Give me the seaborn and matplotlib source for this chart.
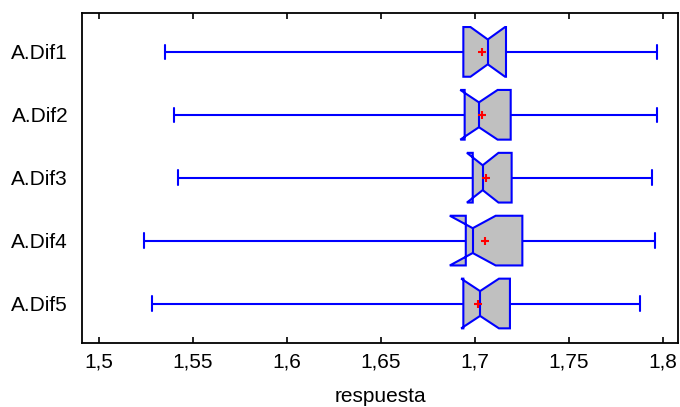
import numpy as np
import pandas as pd
import matplotlib
matplotlib.use("Agg")
import matplotlib.pyplot as plt
import seaborn as sns

# ---- data (five-number summaries + means) ----
categories = ["A.Dif1", "A.Dif2", "A.Dif3", "A.Dif4", "A.Dif5"]
minimums = [1.5350, 1.5399, 1.5422, 1.5239, 1.5280]
q1_values = [1.6939, 1.6946, 1.6989, 1.6952, 1.6939]
medians = [1.7069, 1.7022, 1.7042, 1.6989, 1.7028]
q3_values = [1.7166, 1.7191, 1.7196, 1.7253, 1.7187]
maximums = [1.7971, 1.7971, 1.7941, 1.7959, 1.7881]
means = [1.7037, 1.7040, 1.7060, 1.7054, 1.7019]

x_ticks = [1.5, 1.55, 1.6, 1.65, 1.7, 1.75, 1.8]
x_tick_labels = ["1,5", "1,55", "1,6", "1,65", "1,7", "1,75", "1,8"]
x_label = "respuesta"

# long-form table for seaborn: every summary value entered with equal weight
rows = []
for cat, mn, a, md, b, mx in zip(categories, minimums, q1_values, medians, q3_values, maximums):
    for v in (mn, a, md, b, mx):
        for _ in range(3):
            rows.append({"grupo": cat, "respuesta": v})
df = pd.DataFrame(rows)
df_means = pd.DataFrame({"grupo": categories, "respuesta": means})

sns.set_style("ticks")
plt.rcParams["font.family"] = ["Liberation Sans", "DejaVu Sans"]
plt.rcParams["text.color"] = "black"
plt.rcParams["axes.labelcolor"] = "black"
plt.rcParams["xtick.color"] = "black"
plt.rcParams["ytick.color"] = "black"

fig, ax = plt.subplots(figsize=(6.8, 4.07), dpi=100)
fig.subplots_adjust(left=0.1206, right=0.9975, bottom=0.158, top=0.9688)

sns.boxplot(data=df, x="respuesta", y="grupo", order=categories, ax=ax,
            whis=(0, 100), width=0.79, color="#c0c0c0", saturation=1,
            linecolor="#0000ff", linewidth=1.5, notch=True, showfliers=False)

sns.stripplot(data=df_means, x="respuesta", y="grupo", order=categories, ax=ax,
              jitter=False, marker="+", color="#ff0000", size=6, linewidth=1.5,
              zorder=5)

ax.set_xlim(1.49095, 1.8083)
ax.set_ylim(4.623, -0.623)
ax.set_xticks(x_ticks)
ax.set_xticklabels(x_tick_labels)
ax.set_xlabel(x_label, fontsize=15, labelpad=11)
ax.set_ylabel("")
ax.tick_params(axis="x", direction="in", top=True, bottom=True, length=4,
               width=1.2, labelsize=15, pad=7, color="black", labelcolor="black")
ax.tick_params(axis="y", length=0, labelsize=15, pad=10, labelcolor="black")
for s in ax.spines.values():
    s.set_visible(True)
    s.set_linewidth(1.3)
    s.set_color("black")

# shorter whisker caps (style only: shrink each cap about its own centre)
cap_half = 0.115
for cont in ax.containers:
    for cap in list(getattr(cont, "caps", [])):
        yd = np.asarray(cap.get_ydata(), dtype=float)
        c = float(yd.mean())
        cap.set_ydata(np.array([c - cap_half, c + cap_half]))

fig.savefig("out.png", dpi=100)
